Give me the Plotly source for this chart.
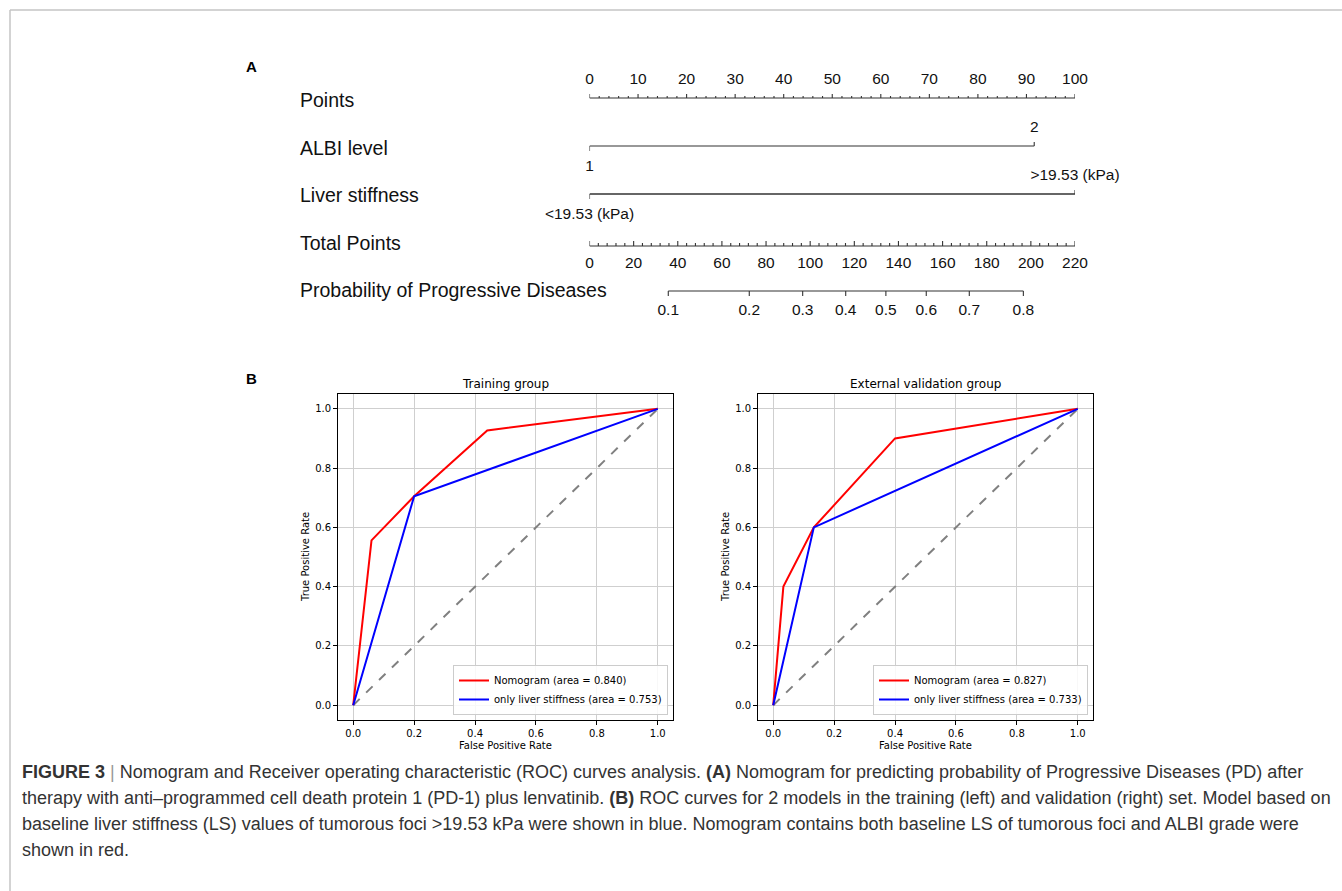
import plotly.graph_objects as go

W, H = 1342, 891

# ---------------- Nomogram data (panel A) ----------------
points_major = [0, 10, 20, 30, 40, 50, 60, 70, 80, 90, 100]
points_minor = list(range(0, 101, 2))
albi_levels = ["1", "2"]
albi_points = [0, 91.6]
ls_levels = ["<19.53 (kPa)", ">19.53 (kPa)"]
ls_points = [0, 100]
total_major = [0, 20, 40, 60, 80, 100, 120, 140, 160, 180, 200, 220]
total_minor = list(range(0, 221, 4))
total_max = 220
prob_labels = ["0.1", "0.2", "0.3", "0.4", "0.5", "0.6", "0.7", "0.8"]
prob_total_points = [35.7, 72.4, 96.6, 116.1, 134.3, 152.6, 172.1, 196.6]
row_names = ["Points", "ALBI level", "Liver stiffness", "Total Points",
             "Probability of Progressive Diseases"]

# ---------------- ROC data (panel B) ----------------
train_nomo_fpr = [0.0, 0.06, 0.20, 0.44, 1.0]
train_nomo_tpr = [0.0, 0.556, 0.705, 0.927, 1.0]
train_ls_fpr = [0.0, 0.20, 1.0]
train_ls_tpr = [0.0, 0.705, 1.0]
train_auc = [0.840, 0.753]

val_nomo_fpr = [0.0, 0.0333, 0.1333, 0.40, 1.0]
val_nomo_tpr = [0.0, 0.40, 0.60, 0.90, 1.0]
val_ls_fpr = [0.0, 0.1333, 1.0]
val_ls_tpr = [0.0, 0.60, 1.0]
val_auc = [0.827, 0.733]

roc_ticks = [0.0, 0.2, 0.4, 0.6, 0.8, 1.0]


def px_x(v):
    return v / W


def px_y(v):
    return 1 - v / H


def esc(s):
    return s.replace("<", "&lt;").replace(">", "&gt;")


fig = go.Figure()

NOMO_LINE = "#333333"
NOMO_FONT = "Liberation Sans, Arial, sans-serif"
ROC_FONT = "DejaVu Sans, sans-serif"

# row positions (layout, in page pixels from top)
Y_PTS, Y_ALBI, Y_LS, Y_TOT, Y_PROB = 98, 146, 194, 246, 291
NOMO_TOP, NOMO_BOT = 40, 335


def add_segments(x_pairs, y_pairs, width=1.1):
    xs, ys = [], []
    for (x0, x1), (y0, y1) in zip(x_pairs, y_pairs):
        xs += [x0, x1, None]
        ys += [y0, y1, None]
    fig.add_trace(go.Scatter(x=xs, y=ys, mode="lines",
                             line=dict(color=NOMO_LINE, width=width),
                             xaxis="x3", yaxis="y3", showlegend=False,
                             hoverinfo="skip", cliponaxis=False))


def add_text(xs, ys, texts, size=15.5):
    fig.add_trace(go.Scatter(x=xs, y=ys, text=[esc(t) for t in texts], mode="text",
                             textposition="middle center",
                             textfont=dict(family=NOMO_FONT, size=size, color="#111111"),
                             xaxis="x3", yaxis="y3", showlegend=False,
                             hoverinfo="skip", cliponaxis=False))


# Points scale
add_segments([(points_minor[0], points_minor[-1])], [(Y_PTS, Y_PTS)])
add_segments([(v, v) for v in points_minor],
             [(Y_PTS, Y_PTS - (4 if v in points_major else 2)) for v in points_minor])
add_text(points_major, [80] * len(points_major), [str(v) for v in points_major])

# ALBI level
add_segments([(min(albi_points), max(albi_points))], [(Y_ALBI, Y_ALBI)])
add_segments([(albi_points[0], albi_points[0]), (albi_points[1], albi_points[1])],
             [(Y_ALBI, Y_ALBI + 5), (Y_ALBI, Y_ALBI - 4)])
add_text(albi_points, [Y_ALBI + 21, Y_ALBI - 18], albi_levels)

# Liver stiffness
add_segments([(min(ls_points), max(ls_points))], [(Y_LS, Y_LS)], width=1.7)
add_segments([(ls_points[0], ls_points[0]), (ls_points[1], ls_points[1])],
             [(Y_LS, Y_LS + 5), (Y_LS, Y_LS - 4)])
add_text(ls_points, [Y_LS + 21, Y_LS - 18], ls_levels)

# Total points
tp = lambda t: t * 100.0 / total_max
add_segments([(tp(total_minor[0]), tp(total_minor[-1]))], [(Y_TOT, Y_TOT)])
add_segments([(tp(v), tp(v)) for v in total_minor],
             [(Y_TOT, Y_TOT - (5 if v in total_major else 3)) for v in total_minor])
add_text([tp(v) for v in total_major], [Y_TOT + 18] * len(total_major),
         [str(v) for v in total_major])

# Probability
add_segments([(tp(prob_total_points[0]), tp(prob_total_points[-1]))], [(Y_PROB, Y_PROB)])
add_segments([(tp(v), tp(v)) for v in prob_total_points],
             [(Y_PROB, Y_PROB + 5) for v in prob_total_points])
add_text([tp(v) for v in prob_total_points], [Y_PROB + 20] * len(prob_total_points),
         prob_labels)

# ---------------- ROC traces ----------------
def roc_pair(fpr_n, tpr_n, fpr_l, tpr_l, aucs, xa, ya, leg):
    fig.add_trace(go.Scatter(x=[0, 1], y=[0, 1], mode="lines",
                             line=dict(color="grey", width=2, dash="dash"),
                             xaxis=xa, yaxis=ya, showlegend=False, hoverinfo="skip"))
    fig.add_trace(go.Scatter(x=fpr_n, y=tpr_n, mode="lines",
                             line=dict(color="red", width=2),
                             name="Nomogram (area = %.3f)" % aucs[0],
                             xaxis=xa, yaxis=ya, legend=leg))
    fig.add_trace(go.Scatter(x=fpr_l, y=tpr_l, mode="lines",
                             line=dict(color="blue", width=2),
                             name="only liver stiffness (area = %.3f)" % aucs[1],
                             xaxis=xa, yaxis=ya, legend=leg))


roc_pair(train_nomo_fpr, train_nomo_tpr, train_ls_fpr, train_ls_tpr, train_auc, "x", "y", "legend")
roc_pair(val_nomo_fpr, val_nomo_tpr, val_ls_fpr, val_ls_tpr, val_auc, "x2", "y2", "legend2")

# ---------------- Layout ----------------
L_X0, L_X1 = 338, 673
R_X0, R_X1 = 758, 1093
P_Y0, P_Y1 = 394, 720


def roc_axis(domain, anchor):
    return dict(domain=domain, anchor=anchor, range=[-0.05, 1.05],
                tickvals=roc_ticks, ticktext=["%.1f" % v for v in roc_ticks],
                ticks="outside", ticklen=4, tickwidth=0.8, tickcolor="black",
                showline=True, linecolor="black", linewidth=0.9, mirror=True,
                showgrid=True, gridcolor="#cfcfcf", gridwidth=0.9, zeroline=False,
                tickfont=dict(family=ROC_FONT, size=10, color="black"))


xdomL = [px_x(L_X0), px_x(L_X1)]
xdomR = [px_x(R_X0), px_x(R_X1)]
ydom = [px_y(P_Y1), px_y(P_Y0)]

legend_style = dict(font=dict(family=ROC_FONT, size=10, color="black"),
                    bgcolor="rgba(255,255,255,0.85)", bordercolor="#cccccc",
                    borderwidth=1, xanchor="right", yanchor="bottom",
                    tracegroupgap=0, itemwidth=30)

annotations = []
# row labels
for name, yy in zip(row_names, [100, 148, 195, 243, 290]):
    annotations.append(dict(text=name, x=px_x(298), y=px_y(yy), xref="paper", yref="paper",
                            xanchor="left", yanchor="middle", showarrow=False,
                            font=dict(family=NOMO_FONT, size=19.5, color="#111111")))
# panel letters
for letter, yy in [("A", 66), ("B", 378)]:
    annotations.append(dict(text="<b>%s</b>" % letter, x=px_x(244), y=px_y(yy),
                            xref="paper", yref="paper", xanchor="left", yanchor="middle",
                            showarrow=False, font=dict(family=NOMO_FONT, size=15, color="black")))
# ROC titles and axis titles
for title, x0, x1 in [("Training group", L_X0, L_X1), ("External validation group", R_X0, R_X1)]:
    cx = px_x((x0 + x1) / 2)
    annotations.append(dict(text=title, x=cx, y=px_y(384), xref="paper", yref="paper",
                            xanchor="center", yanchor="middle", showarrow=False,
                            font=dict(family=ROC_FONT, size=12, color="black")))
    annotations.append(dict(text="False Positive Rate", x=cx, y=px_y(745), xref="paper",
                            yref="paper", xanchor="center", yanchor="middle", showarrow=False,
                            font=dict(family=ROC_FONT, size=10, color="black")))
    annotations.append(dict(text="True Positive Rate", x=px_x(x0 - 33), y=px_y((P_Y0 + P_Y1) / 2),
                            xref="paper", yref="paper", xanchor="center", yanchor="middle",
                            textangle=-90, showarrow=False,
                            font=dict(family=ROC_FONT, size=10, color="black")))

# caption
caption_lines = [
    "<b>FIGURE 3</b> <span style='color:#999'>|</span> Nomogram and Receiver operating characteristic (ROC) curves analysis. <b>(A)</b> Nomogram for predicting probability of Progressive Diseases (PD) after",
    "therapy with anti\u2013programmed cell death protein 1 (PD-1) plus lenvatinib. <b>(B)</b> ROC curves for 2 models in the training (left) and validation (right) set. Model based on",
    "baseline liver stiffness (LS) values of tumorous foci &gt;19.53 kPa were shown in blue. Nomogram contains both baseline LS of tumorous foci and ALBI grade were",
    "shown in red.",
]
for i, line in enumerate(caption_lines):
    annotations.append(dict(text=line, x=px_x(20), y=px_y(772 + 26 * i), xref="paper",
                            yref="paper", xanchor="left", yanchor="middle", showarrow=False,
                            font=dict(family=NOMO_FONT, size=18, color="#333333")))

shapes = [
    dict(type="line", xref="paper", yref="paper", x0=px_x(10), x1=1, y0=px_y(10), y1=px_y(10),
         line=dict(color="#c4c4c4", width=1.5)),
    dict(type="line", xref="paper", yref="paper", x0=px_x(10), x1=px_x(10), y0=px_y(10), y1=0,
         line=dict(color="#c4c4c4", width=1.5)),
]

fig.update_layout(
    width=W, height=H, autosize=False,
    margin=dict(l=0, r=0, t=0, b=0, pad=0),
    paper_bgcolor="white", plot_bgcolor="rgba(0,0,0,0)",
    xaxis=roc_axis(xdomL, "y"), yaxis=roc_axis(ydom, "x"),
    xaxis2=roc_axis(xdomR, "y2"), yaxis2=roc_axis(ydom, "x2"),
    xaxis3=dict(domain=[px_x(589.5), px_x(1075)], range=[0, 100], visible=False,
                anchor="y3", fixedrange=True),
    yaxis3=dict(domain=[px_y(NOMO_BOT), px_y(NOMO_TOP)], range=[NOMO_BOT, NOMO_TOP],
                visible=False, anchor="x3", fixedrange=True),
    legend=dict(x=px_x(L_X1 - 5), y=px_y(P_Y1 - 5), **legend_style),
    legend2=dict(x=px_x(R_X1 - 5), y=px_y(P_Y1 - 5), **legend_style),
    annotations=annotations, shapes=shapes,
    hovermode=False,
)

fig.write_html("out.html", config={"displayModeBar": False},
               post_script="document.body.style.margin='0';document.body.style.overflow='hidden';")
